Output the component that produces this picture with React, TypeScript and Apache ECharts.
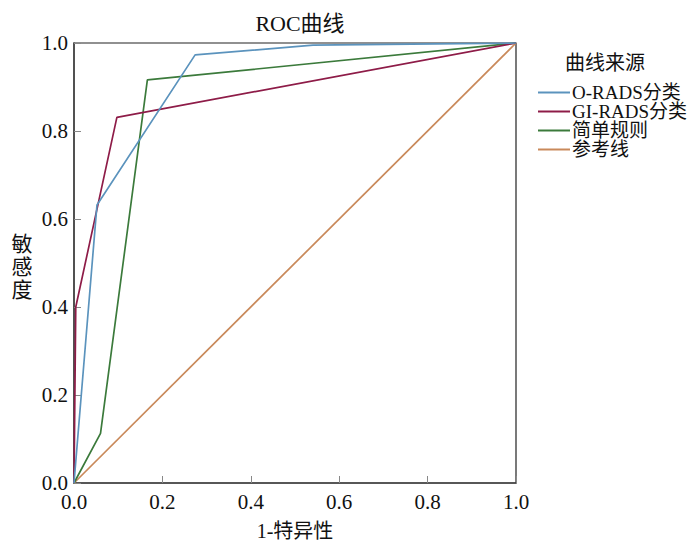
import React, { useEffect, useRef } from "react";
import * as echarts from "echarts";

const seriesNames = ["O-RADS分类", "GI-RADS分类", "简单规则", "参考线"];
const seriesColors = ["#5b93bd", "#8e1c48", "#3b7a3b", "#c9895a"];
const oradsPoints: [number, number][] = [[0, 0], [0.052, 0.632], [0.274, 0.973], [0.541, 0.995], [1, 1]];
const giradsPoints: [number, number][] = [[0, 0], [0.004, 0.4], [0.097, 0.831], [1, 1]];
const simplePoints: [number, number][] = [[0, 0], [0.06, 0.113], [0.166, 0.916], [1, 1]];
const refPoints: [number, number][] = [[0, 0], [1, 1]];
const allData = [oradsPoints, giradsPoints, simplePoints, refPoints];

const FONT = "'Liberation Serif', 'Times New Roman', 'Noto Sans CJK SC', serif";

export default function App() {
  const ref = useRef<HTMLDivElement>(null);
  useEffect(() => {
    if (!ref.current) return;
    const chart = echarts.init(ref.current, undefined, { renderer: "svg" });
    chart.setOption({
      animation: false,
      backgroundColor: "#ffffff",
      title: {
        text: "ROC曲线",
        left: 295,
        textAlign: "center",
        top: 7,
        textStyle: { fontFamily: FONT, fontSize: 22, fontWeight: "normal", color: "#111" },
      },
      legend: {
        orient: "vertical",
        left: 538,
        top: 83,
        padding: 0,
        itemGap: 0,
        itemWidth: 32,
        itemHeight: 2,
        icon: "rect",
        data: seriesNames,
        textStyle: { fontFamily: FONT, fontSize: 19, lineHeight: 19, color: "#111", padding: [0, 0, 0, -3] },
      },
      graphic: [
        {
          type: "text",
          left: 565,
          top: 53,
          style: { text: "曲线来源", font: `20px ${FONT}`, fill: "#111" },
        },
        {
          type: "text",
          x: 22,
          y: 267,
          style: {
            text: "敏\n感\n度",
            font: `21px ${FONT}`,
            fill: "#111",
            align: "center",
            verticalAlign: "middle",
            lineHeight: 23,
          },
        },
      ],
      grid: {
        left: 74,
        top: 43,
        width: 442,
        height: 440,
        outerBoundsMode: "none",
        containLabel: false,
        show: true,
        borderColor: "#222",
        borderWidth: 1.2,
      },
      xAxis: {
        type: "value",
        min: 0,
        max: 1,
        interval: 0.2,
        name: "1-特异性",
        nameLocation: "middle",
        nameGap: 38,
        nameTextStyle: { fontFamily: FONT, fontSize: 20, color: "#111" },
        axisLine: { show: true, lineStyle: { color: "#444", width: 1.5 } },
        axisTick: { show: true, inside: true, length: 7, lineStyle: { color: "#888" } },
        axisLabel: {
          fontFamily: FONT,
          fontSize: 21,
          color: "#111",
          margin: 8,
          formatter: (v: number) => v.toFixed(1),
        },
        splitLine: { show: false },
      },
      yAxis: {
        type: "value",
        min: 0,
        max: 1,
        interval: 0.2,
        axisLine: { show: true, lineStyle: { color: "#444", width: 1.5 } },
        axisTick: { show: true, inside: true, length: 7, lineStyle: { color: "#888" } },
        axisLabel: {
          fontFamily: FONT,
          fontSize: 21,
          color: "#111",
          margin: 6,
          formatter: (v: number) => v.toFixed(1),
        },
        splitLine: { show: false },
      },
      series: seriesNames.map((name, i) => ({
        name,
        type: "line",
        data: allData[i],
        showSymbol: false,
        symbol: "none",
        lineStyle: { color: seriesColors[i], width: 1.7 },
        itemStyle: { color: seriesColors[i] },
        z: i === 3 ? 1 : 2 + (3 - i),
      })),
    });
    return () => chart.dispose();
  }, []);
  return (
    <div
      ref={ref}
      style={{ position: "fixed", left: 0, top: 0, width: 698, height: 544 }}
    />
  );
}
